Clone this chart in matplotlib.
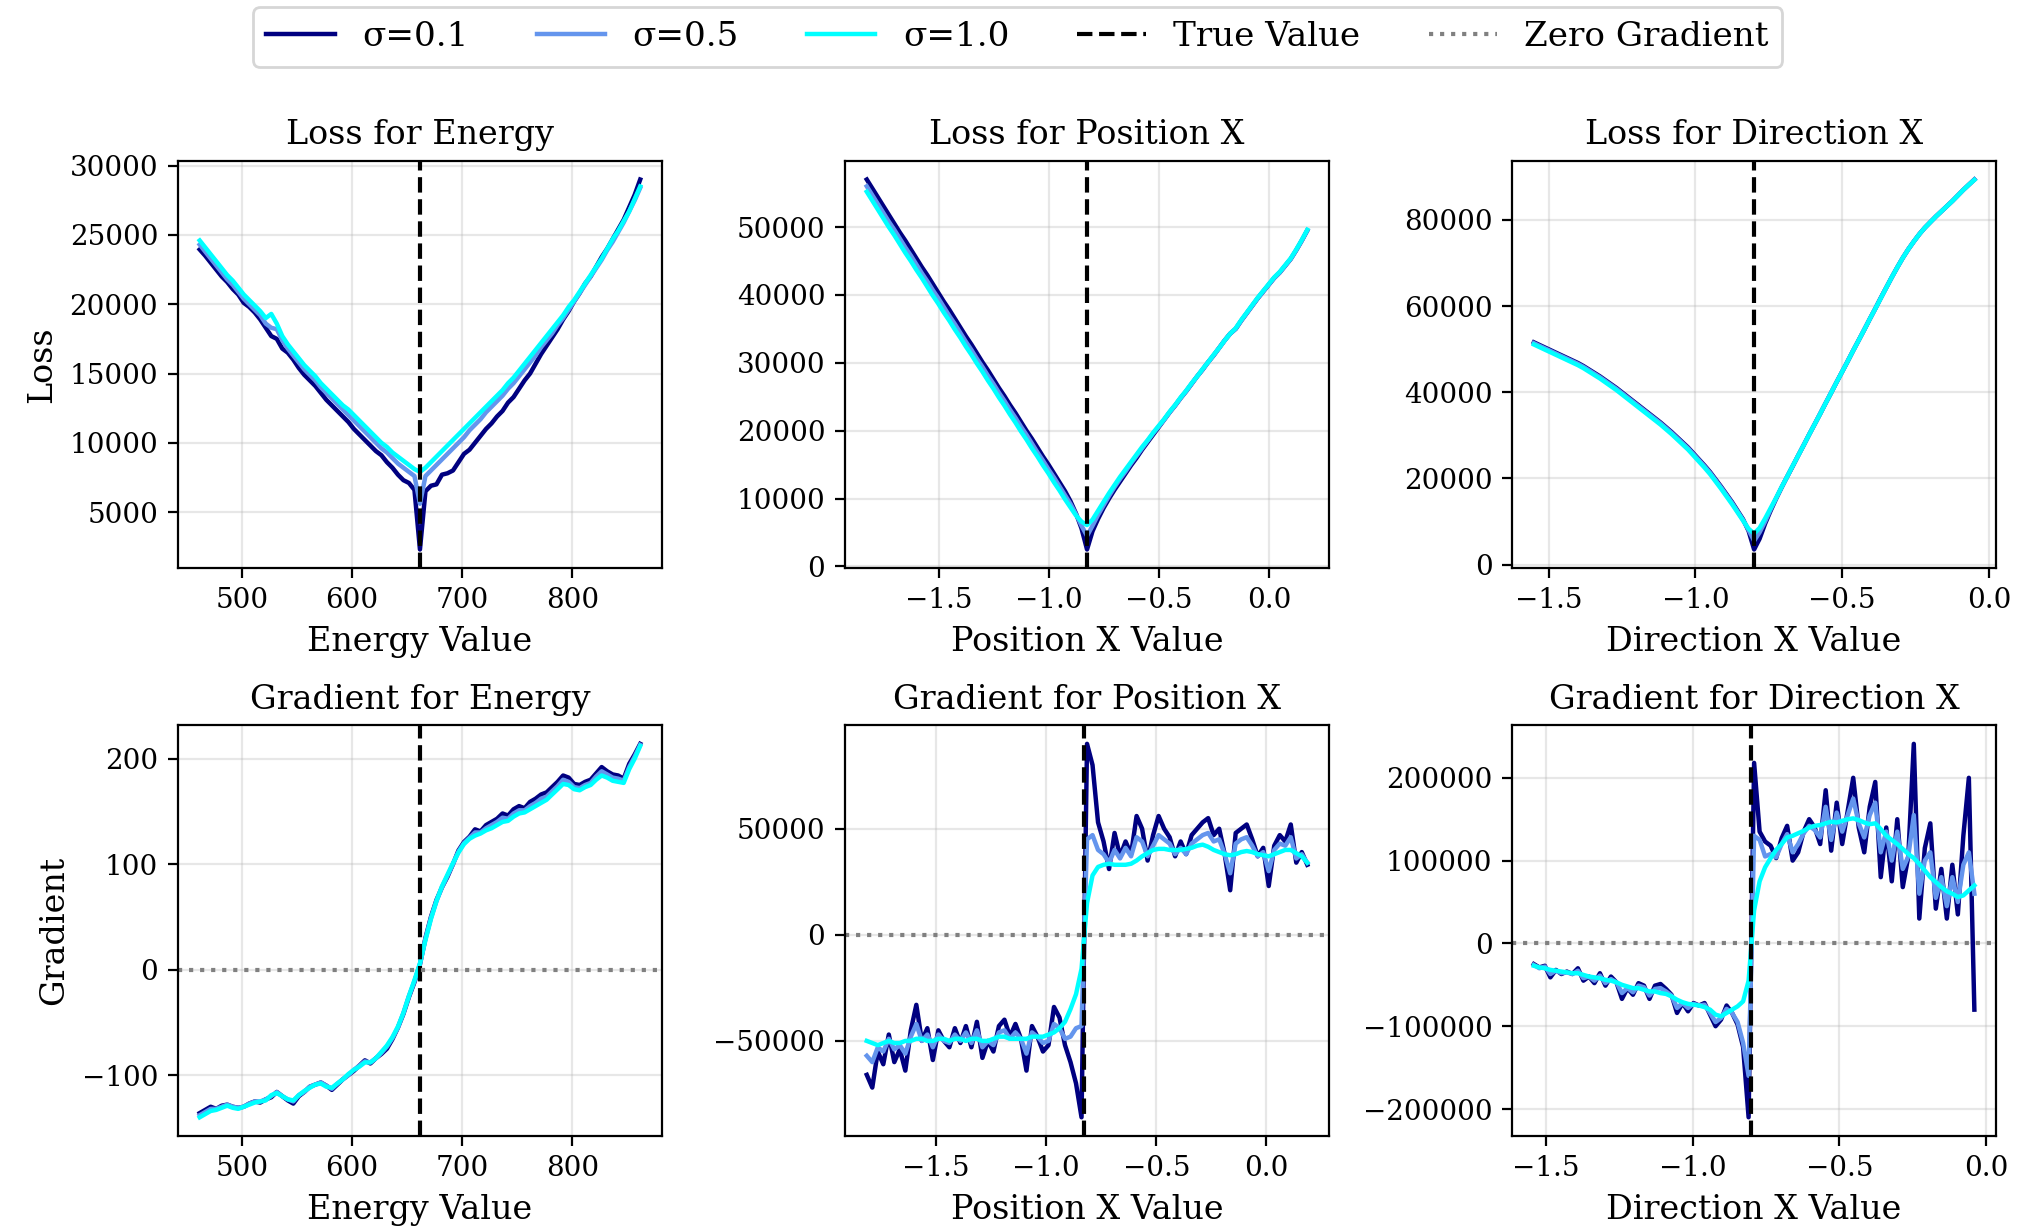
import numpy as np
import matplotlib
matplotlib.use("Agg")
import matplotlib.pyplot as plt

plt.rcParams['font.family'] = ['DejaVu Serif']

# ---------------- data ----------------
sigma_labels = ['σ=0.1', 'σ=0.5', 'σ=1.0']
colors = ['navy', 'cornflowerblue', 'cyan']

true_energy = 661.7
true_posx = -0.827
true_dirx = -0.80

energy_range = (461.7, 861.7)
posx_range = (-1.827, 0.173)
dirx_range = (-1.55, -0.05)
n_points = 81

# Loss for Energy
loss_energy_s01 = [
    23950, 23500, 23000, 22500, 22000, 21600, 21100, 20700, 20100, 19800,
    19400, 18900, 18300, 17700, 17500, 16800, 16500, 16000, 15400, 14900,
    14500, 14100, 13600, 13100, 12700, 12300, 11900, 11500, 11000, 10600,
    10200, 9800, 9400, 9100, 8600, 8200, 7700, 7300, 7100, 6600,
    2300, 6500, 6900, 7000, 7700, 7800, 8000, 8600, 9200, 9500,
    10000, 10500, 11000, 11400, 11900, 12300, 12900, 13300, 13900, 14500,
    15000, 15700, 16400, 17000, 17600, 18200, 18900, 19500, 20200, 20800,
    21500, 22000, 22700, 23400, 24000, 24700, 25400, 26100, 27000, 27900,
    29000]
loss_energy_s05 = [
    24300, 23800, 23300, 22800, 22300, 21800, 21400, 20900, 20400, 20000,
    19600, 19200, 18600, 18300, 18200, 17400, 16800, 16300, 15800, 15300,
    14900, 14500, 14000, 13600, 13200, 12800, 12400, 12000, 11600, 11200,
    10800, 10400, 10000, 9600, 9300, 8900, 8500, 8200, 7900, 7600,
    5600, 7600, 8000, 8400, 8800, 9200, 9600, 10000, 10400, 10900,
    11300, 11700, 12200, 12600, 13000, 13400, 13900, 14300, 14800, 15300,
    15800, 16300, 16900, 17400, 17900, 18500, 19000, 19600, 20200, 20800,
    21400, 22000, 22600, 23200, 23900, 24500, 25200, 25900, 26700, 27500,
    28400]
loss_energy_s10 = [
    24600, 24100, 23600, 23100, 22600, 22100, 21700, 21200, 20700, 20300,
    19900, 19500, 19000, 19300, 18600, 17700, 17100, 16600, 16100, 15600,
    15200, 14800, 14300, 13900, 13500, 13100, 12700, 12400, 12000, 11600,
    11200, 10800, 10400, 10000, 9700, 9300, 9000, 8700, 8400, 8100,
    7900, 8200, 8600, 9000, 9400, 9800, 10200, 10600, 11000, 11400,
    11800, 12200, 12600, 13000, 13400, 13800, 14300, 14700, 15200, 15700,
    16200, 16700, 17200, 17700, 18200, 18700, 19200, 19800, 20300, 20900,
    21500, 22100, 22700, 23300, 24000, 24700, 25300, 26000, 26700, 27600,
    28500]

# Loss for Position X
loss_posx_s01 = [
    57000, 55700, 54400, 53100, 51800, 50500, 49200, 48000, 46700, 45400,
    44100, 42900, 41600, 40300, 39000, 37800, 36500, 35200, 33900, 32700,
    31400, 30100, 28900, 27600, 26300, 25100, 23800, 22600, 21300, 20000,
    18800, 17500, 16200, 15000, 13700, 12400, 11100, 9600, 7800, 5600,
    2500, 5200, 7000, 8600, 10000, 11300, 12500, 13700, 14900, 16000,
    17200, 18300, 19400, 20500, 21600, 22700, 23700, 24800, 25800, 26900,
    28000, 29000, 30100, 31100, 32200, 33300, 34300, 35000, 36200, 37300,
    38400, 39500, 40500, 41500, 42500, 43300, 44300, 45300, 46600, 48000,
    49500]
loss_posx_s05 = [
    56000, 54700, 53400, 52100, 50800, 49600, 48300, 47000, 45800, 44500,
    43200, 42000, 40700, 39500, 38200, 36900, 35700, 34400, 33100, 31900,
    30600, 29400, 28100, 26900, 25600, 24400, 23100, 21900, 20600, 19400,
    18100, 16800, 15600, 14300, 13100, 11800, 10500, 9200, 7700, 6000,
    4500, 6000, 7600, 9000, 10400, 11700, 12900, 14000, 15200, 16300,
    17400, 18500, 19600, 20600, 21600, 22700, 23700, 24800, 25800, 26900,
    28000, 29000, 30100, 31100, 32200, 33300, 34300, 35000, 36200, 37300,
    38400, 39500, 40500, 41500, 42500, 43300, 44300, 45300, 46600, 48000,
    49500]
loss_posx_s10 = [
    55200, 53900, 52600, 51300, 50000, 48800, 47500, 46200, 45000, 43700,
    42500, 41200, 39900, 38700, 37400, 36200, 34900, 33700, 32400, 31200,
    29900, 28700, 27400, 26200, 24900, 23700, 22400, 21200, 19900, 18700,
    17400, 16200, 14900, 13700, 12400, 11200, 9900, 8700, 7500, 6600,
    6100, 6900, 8200, 9500, 10800, 12000, 13200, 14300, 15400, 16500,
    17600, 18600, 19700, 20700, 21700, 22800, 23800, 24900, 25900, 27000,
    28000, 29100, 30100, 31200, 32200, 33300, 34300, 35100, 36300, 37400,
    38500, 39600, 40600, 41600, 42600, 43400, 44400, 45400, 46700, 48100,
    49600]

# Loss for Direction X
loss_dirx_s01 = [
    51600, 51000, 50400, 49800, 49200, 48600, 48000, 47400, 46800, 46100,
    45300, 44500, 43700, 42800, 41900, 41000, 40000, 39000, 38000, 37000,
    36000, 35000, 34000, 33000, 31900, 30800, 29600, 28400, 27200, 25800,
    24400, 23000, 21500, 19800, 18100, 16300, 14500, 12500, 10500, 7800,
    3500, 6000, 9500, 12500, 15300, 17900, 20400, 22800, 25300, 27700,
    30200, 32600, 35000, 37500, 39900, 42400, 44800, 47200, 49700, 52100,
    54500, 57000, 59400, 61900, 64300, 66700, 69000, 71200, 73200, 75000,
    76700, 78200, 79500, 80800, 82000, 83200, 84400, 85700, 87000, 88200,
    89400]
loss_dirx_s05 = [
    51400, 50800, 50200, 49600, 49000, 48400, 47800, 47200, 46600, 45900,
    45100, 44300, 43500, 42600, 41700, 40800, 39800, 38800, 37800, 36800,
    35800, 34800, 33800, 32800, 31700, 30600, 29400, 28200, 27000, 25600,
    24200, 22800, 21300, 19600, 17900, 16100, 14300, 12300, 10300, 8000,
    5500, 7500, 10000, 12800, 15400, 18000, 20400, 22900, 25300, 27800,
    30200, 32600, 35100, 37500, 40000, 42400, 44800, 47300, 49700, 52100,
    54600, 57000, 59400, 61900, 64300, 66700, 69000, 71200, 73200, 75000,
    76700, 78200, 79500, 80800, 82000, 83200, 84400, 85700, 87000, 88200,
    89400]
loss_dirx_s10 = [
    51100, 50500, 49900, 49300, 48700, 48100, 47500, 46900, 46300, 45600,
    44800, 44000, 43200, 42300, 41400, 40500, 39500, 38500, 37500, 36500,
    35500, 34500, 33500, 32500, 31400, 30300, 29100, 27900, 26700, 25300,
    23900, 22500, 21000, 19300, 17600, 15800, 14000, 12100, 10200, 8300,
    7200, 8500, 10700, 13100, 15500, 18000, 20400, 22900, 25300, 27700,
    30200, 32600, 35000, 37500, 39900, 42400, 44800, 47200, 49700, 52100,
    54500, 57000, 59400, 61800, 64300, 66700, 69000, 71200, 73200, 75000,
    76700, 78200, 79500, 80800, 82000, 83200, 84400, 85700, 87000, 88200,
    89300]

# Gradient for Energy
grad_energy_s01 = [
    -136, -133, -130, -132, -129, -128, -130, -131, -130, -127,
    -125, -126, -123, -121, -116, -120, -124, -127, -120, -116,
    -111, -109, -107, -110, -114, -109, -104, -100, -96, -91,
    -86, -89, -84, -80, -75, -66, -55, -42, -26, -12,
    5, 30, 50, 66, 78, 88, 100, 113, 121, 126,
    133, 131, 137, 140, 143, 148, 146, 152, 155, 153,
    159, 162, 166, 168, 173, 178, 184, 182, 176, 175,
    178, 180, 186, 192, 188, 185, 184, 181, 195, 204,
    214]
grad_energy_s05 = [
    -138, -135, -132, -132, -130, -128, -130, -131, -130, -127,
    -125, -125, -123, -120, -116, -120, -123, -125, -119, -116,
    -111, -109, -107, -110, -113, -108, -104, -100, -95, -91,
    -87, -88, -84, -79, -73, -65, -55, -41, -25, -11,
    5, 29, 49, 65, 78, 89, 100, 112, 120, 125,
    130, 130, 134, 137, 140, 144, 143, 148, 151, 151,
    155, 158, 162, 164, 169, 174, 180, 178, 173, 172,
    175, 177, 183, 188, 185, 182, 181, 179, 192, 202,
    213]
grad_energy_s10 = [
    -140, -137, -134, -133, -131, -129, -131, -132, -130, -128,
    -126, -125, -124, -119, -117, -120, -123, -124, -119, -115,
    -112, -109, -108, -111, -112, -108, -104, -99, -95, -92,
    -88, -88, -84, -78, -72, -64, -54, -41, -25, -10,
    6, 28, 48, 65, 79, 90, 101, 111, 119, 124,
    127, 129, 132, 134, 137, 140, 141, 145, 148, 149,
    152, 155, 158, 161, 166, 171, 176, 175, 171, 170,
    173, 175, 180, 184, 182, 179, 178, 177, 190, 200,
    212]

# Gradient for Position X
grad_posx_s01 = [
    -66000, -72000, -55000, -61000, -47000, -60000, -54000, -64000, -45000, -33000,
    -50000, -44000, -59000, -45000, -50000, -53000, -44000, -51000, -43000, -53000,
    -41000, -58000, -50000, -55000, -43000, -40000, -48000, -42000, -49000, -64000,
    -43000, -48000, -55000, -52000, -34000, -39000, -52000, -60000, -70000, -86000,
    90000, 80000, 53000, 44000, 31000, 48000, 37000, 44000, 38000, 56000,
    50000, 35000, 47000, 56000, 50000, 46000, 37000, 44000, 38000, 47000,
    50000, 53000, 55000, 47000, 50000, 38000, 21000, 48000, 50000, 52000,
    45000, 37000, 41000, 23000, 42000, 47000, 44000, 52000, 34000, 39000,
    33000]
grad_posx_s05 = [
    -57000, -60000, -53000, -55000, -49000, -54000, -52000, -56000, -48000, -42000,
    -50000, -47000, -53000, -47000, -50000, -51000, -47000, -50000, -46000, -51000,
    -45000, -53000, -50000, -52000, -46000, -45000, -49000, -46000, -49000, -56000,
    -46000, -48000, -51000, -50000, -42000, -44000, -49000, -48000, -44000, -43000,
    45000, 47000, 40000, 38000, 34000, 40000, 36000, 41000, 37000, 46000,
    44000, 37000, 42000, 47000, 45000, 43000, 38000, 41000, 38000, 43000,
    45000, 47000, 48000, 44000, 45000, 38000, 29000, 43000, 45000, 46000,
    42000, 37000, 39000, 30000, 40000, 43000, 42000, 46000, 36000, 38000,
    34000]
grad_posx_s10 = [
    -50000, -51000, -52000, -51000, -50000, -51000, -51000, -50000, -50000, -49000,
    -49000, -50000, -50000, -49000, -49000, -50000, -49000, -49000, -50000, -49000,
    -49000, -50000, -50000, -49000, -48000, -48000, -49000, -49000, -49000, -49000,
    -48000, -48000, -48000, -47000, -46000, -44000, -41000, -35000, -28000, -16000,
    15000, 28000, 32000, 33000, 33500, 33000, 33000, 33000, 33500, 35000,
    37000, 38500, 40000, 40500, 40500, 40000, 40000, 40000, 40500, 41000,
    42000, 42500, 41500, 40000, 39000, 38000, 37500, 38000, 39000, 39500,
    39000, 38000, 37500, 37000, 38000, 39000, 40000, 40000, 38500, 37000,
    34000]

# Gradient for Direction X
grad_dirx_s01 = [
    -25000, -29000, -27000, -41000, -32000, -37000, -34000, -37000, -30000, -45000,
    -40000, -48000, -36000, -51000, -40000, -47000, -67000, -54000, -62000, -48000,
    -51000, -67000, -51000, -49000, -55000, -62000, -84000, -72000, -82000, -72000,
    -75000, -72000, -86000, -100000, -92000, -75000, -84000, -98000, -125000, -210000,
    218000, 135000, 123000, 118000, 103000, 127000, 142000, 100000, 110000, 135000,
    150000, 140000, 120000, 185000, 112000, 170000, 120000, 160000, 200000, 140000,
    110000, 165000, 195000, 80000, 140000, 75000, 150000, 68000, 105000, 241000,
    30000, 115000, 145000, 42000, 90000, 30000, 95000, 35000, 130000, 200000,
    -80000]
grad_dirx_s05 = [
    -26000, -30000, -28000, -37000, -33000, -36000, -35000, -37000, -33000, -42000,
    -40000, -45000, -39000, -48000, -43000, -47000, -60000, -54000, -59000, -51000,
    -53000, -63000, -55000, -54000, -58000, -63000, -78000, -72000, -78000, -73000,
    -75000, -74000, -84000, -95000, -90000, -79000, -84000, -95000, -120000, -160000,
    130000, 125000, 105000, 108000, 104000, 120000, 132000, 110000, 120000, 133000,
    142000, 137000, 128000, 165000, 125000, 158000, 135000, 155000, 175000, 145000,
    128000, 155000, 170000, 110000, 135000, 100000, 135000, 90000, 105000, 155000,
    60000, 100000, 110000, 55000, 80000, 45000, 80000, 50000, 95000, 110000,
    60000]
grad_dirx_s10 = [
    -27000, -29000, -30000, -32000, -33000, -34000, -35000, -36000, -36000, -38000,
    -40000, -41000, -42000, -44000, -45000, -47000, -50000, -52000, -54000, -54000,
    -56000, -58000, -58000, -60000, -61000, -64000, -68000, -71000, -73000, -74000,
    -75000, -77000, -80000, -86000, -88000, -84000, -80000, -76000, -70000, -45000,
    40000, 75000, 92000, 103000, 113000, 120000, 128000, 130000, 133000, 136000,
    140000, 142000, 143000, 145000, 147000, 146000, 148000, 150000, 151000, 149000,
    146000, 144000, 145000, 138000, 130000, 125000, 120000, 114000, 108000, 103000,
    96000, 88000, 80000, 74000, 68000, 63000, 60000, 56000, 58000, 64000,
    70000]

titles_top = ['Loss for Energy', 'Loss for Position X', 'Loss for Direction X']
titles_bot = ['Gradient for Energy', 'Gradient for Position X', 'Gradient for Direction X']
xlabels = ['Energy Value', 'Position X Value', 'Direction X Value']

# ---------------- figure ----------------
fig = plt.figure(figsize=(10.095, 6.155), dpi=200)

col_x0 = [0.0880, 0.4184, 0.7488]
col_w = 0.2400
top_y0, top_h = 0.5386, 0.3306
bot_y0, bot_h = 0.0772, 0.3337


def grid_from(rng, half_shift=False):
    x = np.linspace(rng[0], rng[1], n_points)
    if half_shift:
        x = x + (x[1] - x[0]) / 2.0
    return x


panels_loss = [
    (grid_from(energy_range), [loss_energy_s01, loss_energy_s05, loss_energy_s10], true_energy),
    (grid_from(posx_range), [loss_posx_s01, loss_posx_s05, loss_posx_s10], true_posx),
    (grid_from(dirx_range), [loss_dirx_s01, loss_dirx_s05, loss_dirx_s10], true_dirx),
]
panels_grad = [
    (grid_from(energy_range), [grad_energy_s01, grad_energy_s05, grad_energy_s10], true_energy),
    (grid_from(posx_range, True), [grad_posx_s01, grad_posx_s05, grad_posx_s10], true_posx),
    (grid_from(dirx_range, True), [grad_dirx_s01, grad_dirx_s05, grad_dirx_s10], true_dirx),
]

lw = 1.6
handles = None
for i in range(3):
    ax = fig.add_axes([col_x0[i], top_y0, col_w, top_h])
    x, series, tv = panels_loss[i]
    for s, c, lab in zip(series, colors, sigma_labels):
        ax.plot(x, s, color=c, lw=lw, label=lab)
    ax.axvline(tv, color='black', ls='--', lw=1.5, label='True Value')
    ax.set_title(titles_top[i], fontsize=12)
    ax.set_xlabel(xlabels[i], fontsize=12)
    if i == 0:
        ax.set_ylabel('Loss', fontsize=12)
    ax.tick_params(labelsize=10)
    ax.grid(True, alpha=0.3)

    ax2 = fig.add_axes([col_x0[i], bot_y0, col_w, bot_h])
    x, series, tv = panels_grad[i]
    for s, c, lab in zip(series, colors, sigma_labels):
        ax2.plot(x, s, color=c, lw=lw, label=lab)
    ax2.axvline(tv, color='black', ls='--', lw=1.5, label='True Value')
    ax2.axhline(0, color='gray', ls=':', lw=1.5, label='Zero Gradient')
    ax2.set_title(titles_bot[i], fontsize=12)
    ax2.set_xlabel(xlabels[i], fontsize=12)
    if i == 0:
        ax2.set_ylabel('Gradient', fontsize=12)
    ax2.tick_params(labelsize=10)
    ax2.grid(True, alpha=0.3)
    if handles is None:
        handles, labels = ax2.get_legend_handles_labels()

fig.legend(handles, labels, loc='upper center', bbox_to_anchor=(0.504, 1.008),
           ncol=5, fontsize=12.3)

fig.savefig('out.png', dpi=200)
